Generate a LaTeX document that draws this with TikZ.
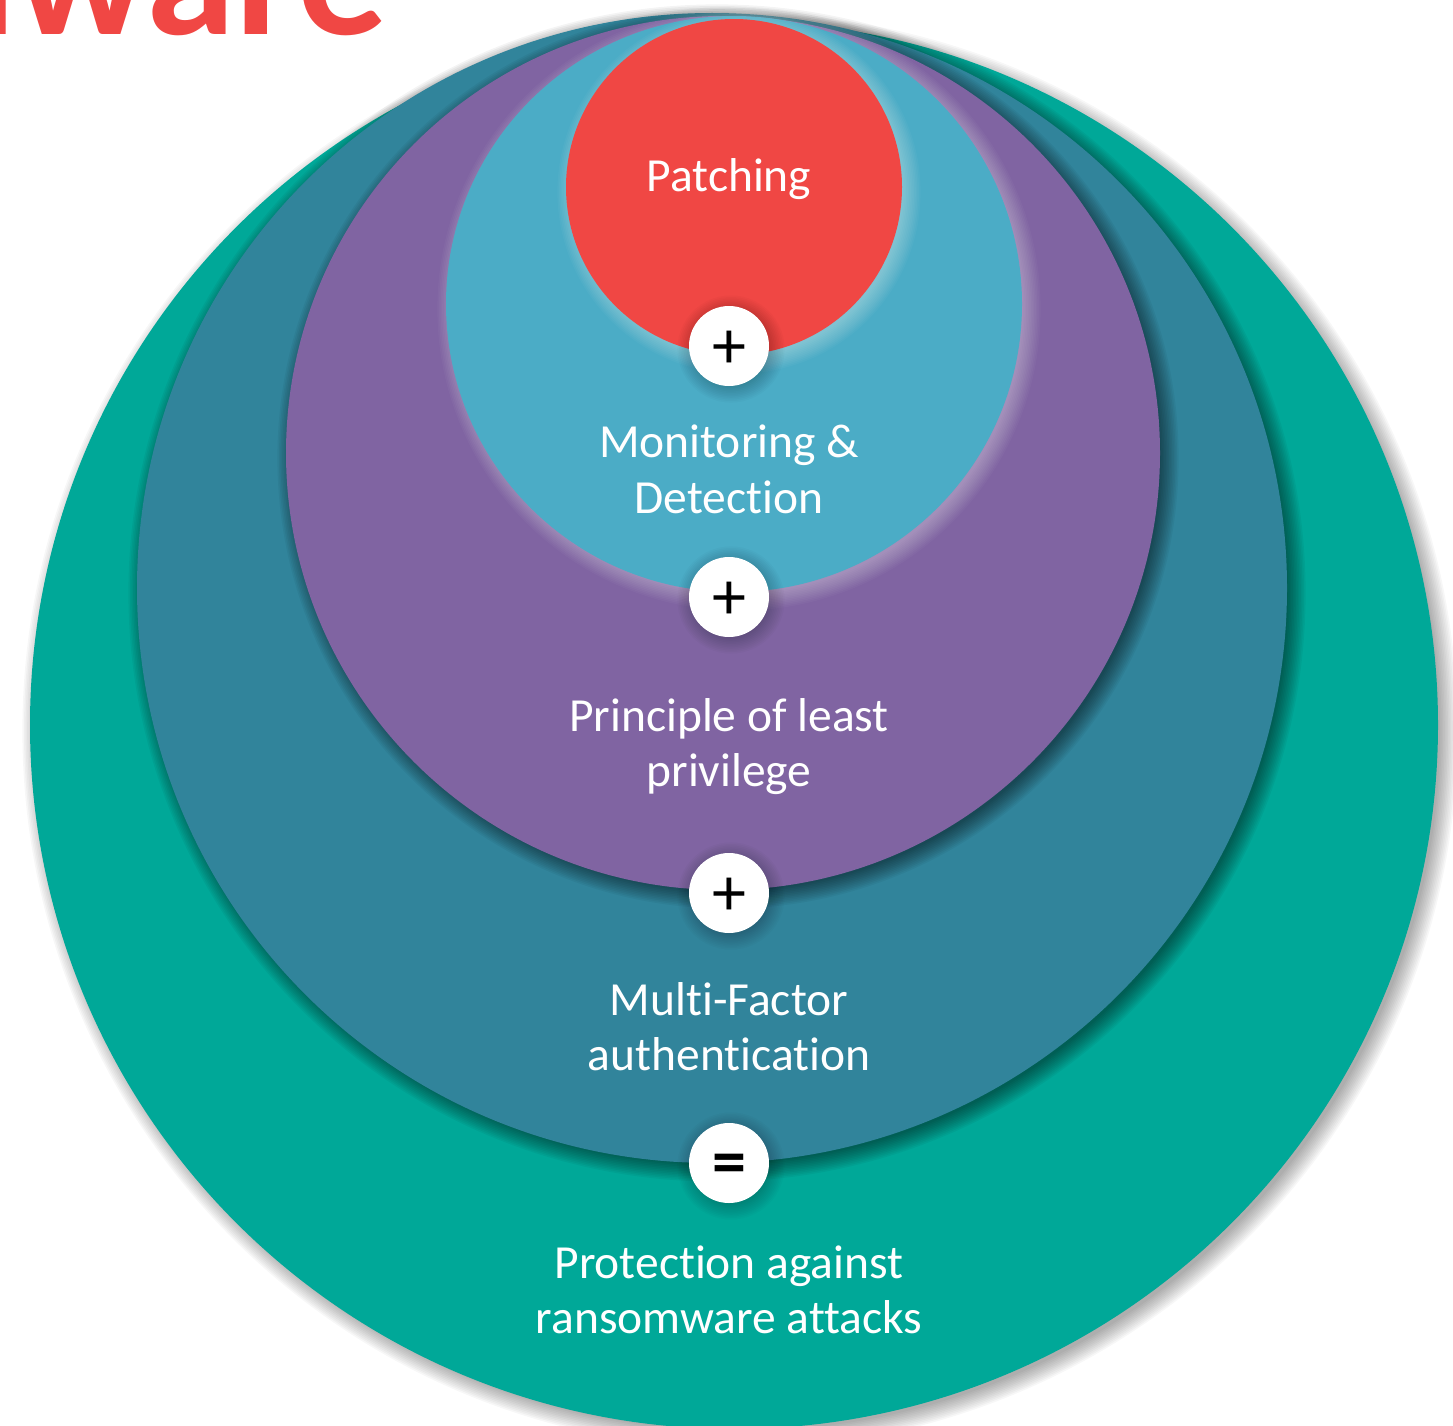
\documentclass[tikz,border=0pt]{standalone}
\usepackage{fontspec}
\setmainfont{Carlito}[Ligatures={NoCommon,NoContextual}]
\definecolor{cteal}{RGB}{0,168,152}
\definecolor{cdblue}{RGB}{49,132,155}
\definecolor{cpurple}{RGB}{128,100,162}
\definecolor{clblue}{RGB}{75,172,198}
\definecolor{cred}{RGB}{240,71,68}
\newcommand\softshade[7]{% cx cy r dx dy colour opacity
  \foreach \k in {0,...,11}{%
    \fill[#6, opacity=#7] (#1+#4,#2+#5) circle[radius={#3-4+\k*1.6}];
  }}
\tikzset{
  ring/.style={circle, inner sep=0pt, draw=none},
  lbl/.style={text=white, align=center, inner sep=0pt, font=\fontsize{47.5}{55.5}\selectfont},
  opnode/.style={circle, fill=white, inner sep=0pt, minimum size=80pt},
  optext/.style={inner sep=0pt, text=black, font=\fontsize{68}{68}\selectfont}
}
\begin{document}
\begin{tikzpicture}[x=1pt,y=-1pt]
\useasboundingbox (0,0) rectangle (1453,1426);
\clip (0,0) rectangle (1453,1426);
% title fragment
\node[anchor=base east, inner sep=0pt, text=cred, font=\fontsize{180}{180}\selectfont\bfseries] (title) at (388,35) {Ransomware};
% outer teal
\softshade{734}{725}{704}{6}{6}{black}{0.03}
\node[ring, fill=cteal, minimum size=1408pt] (teal) at (734,725) {};
% dark blue
\softshade{712}{588}{575}{5}{5}{black}{0.045}
\node[ring, fill=cdblue, minimum size=1150pt] (dblue) at (712,588) {};
% purple
\softshade{723}{453}{437}{5}{5}{black}{0.045}
\node[ring, fill=cpurple, minimum size=874pt] (purple) at (723,453) {};
% light blue
\softshade{734}{304}{288}{5}{5}{white}{0.03}
\node[ring, fill=clblue, minimum size=576pt] (lblue) at (734,304) {};
% red
\softshade{734}{187}{168}{5}{5}{white}{0.03}
\node[ring, fill=cred, minimum size=336pt] (red) at (734,187) {};
% operators
\foreach \y in {346,597,893,1163}{
  \softshade{729}{\y}{40}{2}{3}{black}{0.02}
}
\node[opnode] (o1) at (729,346) {};
\node[opnode] (o2) at (729,597) {};
\node[opnode] (o3) at (729,893) {};
\node[opnode] (o4) at (729,1163) {};
\node[optext, yshift=-4pt] (s1) at (o1) {+};
\node[optext, yshift=-4pt] (s2) at (o2) {+};
\node[optext, yshift=-4pt] (s3) at (o3) {+};
\node[optext, yshift=-6pt, font=\fontsize{68}{68}\selectfont\bfseries] (s4) at (o4) {=};
% labels
\node[lbl] (t1) at (729,180) {\strut Patching};
\node[lbl] (t2) at (729,474.4) {\strut Monitoring \&\\\strut Detection};
\node[lbl] (t3) at (729,747.7) {\strut Principle of least\\\strut privilege};
\node[lbl] (t4) at (729,1032) {\strut Multi-Factor\\\strut authentication};
\node[lbl] (t5) at (729,1294.7) {\strut Protection against\\\strut ransomware attacks};
\end{tikzpicture}
\end{document}
